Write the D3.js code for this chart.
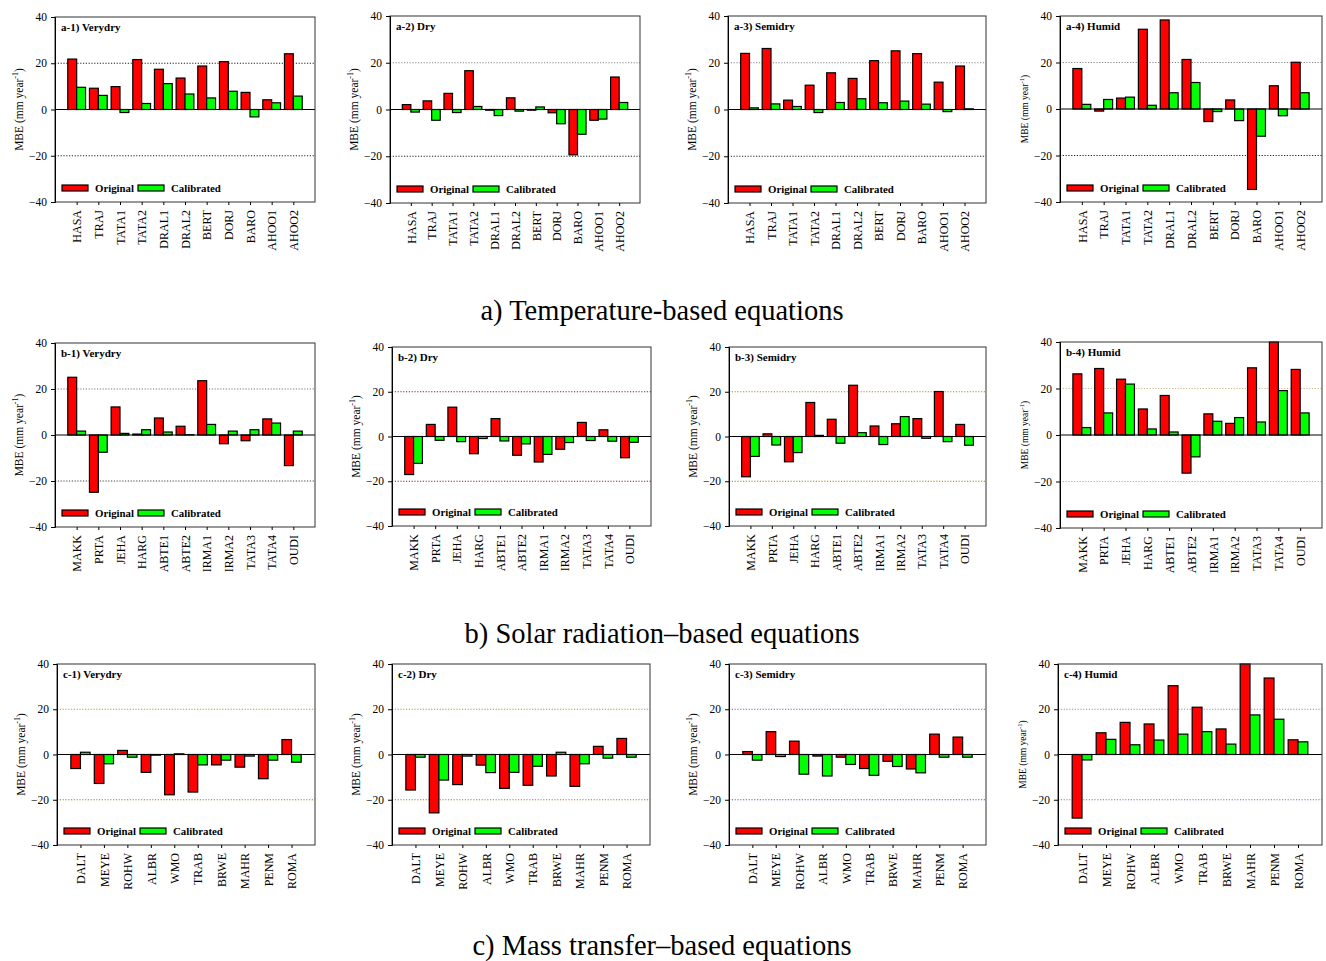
<!DOCTYPE html>
<html>
<head>
<meta charset="utf-8">
<script src="https://cdn.jsdelivr.net/npm/d3@7"></script>
<style>
  body { margin: 0; background: #fff; }
  svg { display: block; font-family: "Liberation Serif", "Times New Roman", serif; }
</style>
</head>
<body>
<svg id="chart" width="1326" height="961"></svg>
<script>
// station / equation names
const tempCats = ['HASA', 'TRAJ', 'TATA1', 'TATA2', 'DRAL1', 'DRAL2', 'BERT', 'DORJ', 'BARO', 'AHOO1', 'AHOO2']
const radCats = ['MAKK', 'PRTA', 'JEHA', 'HARG', 'ABTE1', 'ABTE2', 'IRMA1', 'IRMA2', 'TATA3', 'TATA4', 'OUDI']
const massCats = ['DALT', 'MEYE', 'ROHW', 'ALBR', 'WMO', 'TRAB', 'BRWE', 'MAHR', 'PENM', 'ROMA']

const climates = ['Verydry', 'Dry', 'Semidry', 'Humid']
const yTicks = [-40, -20, 0, 20, 40]

// a) temperature based
const a1Orig = [21.8, 9.2, 9.9, 21.6, 17.4, 13.6, 18.8, 20.7, 7.4, 4.2, 24.1]
const a1Cal = [9.6, 6.1, -1.3, 2.6, 11.2, 6.7, 5.0, 7.9, -3.2, 2.9, 5.8]
const a2Orig = [2.1, 3.7, 6.9, 16.6, -0.3, 5.0, -0.3, -1.4, -19.4, -4.6, 13.9]
const a2Cal = [-1.1, -4.6, -1.3, 1.3, -2.6, -0.7, 1.1, -6.1, -10.6, -4.1, 3.0]
const a3Orig = [24.0, 26.1, 4.0, 10.4, 15.7, 13.3, 20.9, 25.1, 23.9, 11.7, 18.6]
const a3Cal = [0.7, 2.4, 1.3, -1.3, 3.0, 4.6, 2.9, 3.6, 2.3, -0.9, 0.3]
const a4Orig = [17.4, -0.9, 4.7, 34.3, 38.3, 21.3, -5.4, 3.9, -34.6, 10.0, 20.1]
const a4Cal = [2.0, 4.1, 5.1, 1.6, 7.0, 11.4, -1.1, -5.0, -11.7, -2.9, 7.0]

// b) solar radiation based
const b1Orig = [25.1, -24.9, 12.2, 0.4, 7.4, 3.8, 23.6, -3.8, -2.5, 7.0, -13.3]
const b1Cal = [1.7, -7.5, 0.7, 2.3, 1.3, 0.1, 4.6, 1.7, 2.3, 5.2, 1.7]
const b2Orig = [-17.0, 5.4, 13.1, -7.7, 8.0, -8.4, -11.4, -5.7, 6.3, 3.0, -9.5]
const b2Cal = [-12.0, -1.7, -2.3, -0.9, -2.0, -3.3, -8.0, -2.7, -1.8, -2.1, -2.6]
const b3Orig = [-18.0, 1.2, -11.3, 15.2, 7.7, 22.9, 4.7, 5.7, 8.0, 20.1, 5.4]
const b3Cal = [-8.9, -3.8, -7.2, 0.5, -3.0, 1.7, -3.6, 8.9, -0.8, -2.3, -3.9]
const b4Orig = [26.3, 28.6, 24.0, 11.2, 17.0, -16.4, 9.1, 5.0, 28.9, 41.0, 28.2]
const b4Cal = [3.2, 9.5, 21.9, 2.6, 1.3, -9.4, 5.9, 7.5, 5.6, 19.1, 9.5]

// c) mass transfer based
const c1Orig = [-6.2, -12.8, 1.8, -7.9, -17.8, -16.6, -4.6, -5.6, -10.7, 6.6]
const c1Cal = [1.0, -4.1, -1.2, -0.3, 0.3, -4.6, -2.5, -0.7, -2.5, -3.4]
const c2Orig = [-15.7, -25.8, -13.3, -4.7, -15.0, -13.6, -9.5, -14.1, 3.6, 7.1]
const c2Cal = [-1.2, -11.3, -0.7, -8.0, -7.9, -5.2, 1.0, -4.1, -1.6, -1.2]
const c3Orig = [1.3, 10.1, 5.9, -0.7, -1.2, -6.2, -3.0, -6.4, 9.0, 7.7]
const c3Cal = [-2.5, -0.9, -8.7, -9.5, -4.4, -9.2, -5.3, -8.1, -1.2, -1.2]
const c4Orig = [-28.1, 9.6, 14.2, 13.5, 30.4, 20.9, 11.3, 42.0, 33.8, 6.5]
const c4Cal = [-2.4, 6.7, 4.3, 6.4, 9.0, 10.1, 4.6, 17.5, 15.6, 5.6]

const groupTitles = ['a) Temperature-based equations', 'b) Solar radiation\u2013based equations', 'c) Mass transfer\u2013based equations']

// panel layout: [left, top, right, bottom], grid colour
const panels = [
  {id: 'a-1', cats: tempCats, orig: a1Orig, cal: a1Cal, box: [55, 17, 315, 202], grid: ['#222', '#222']},
  {id: 'a-2', cats: tempCats, orig: a2Orig, cal: a2Cal, box: [390, 16, 640, 203], grid: ['#888', '#222']},
  {id: 'a-3', cats: tempCats, orig: a3Orig, cal: a3Cal, box: [728, 16, 986, 203], grid: ['#888', '#222']},
  {id: 'a-4', cats: tempCats, orig: a4Orig, cal: a4Cal, box: [1060, 16, 1322, 202], grid: ['#888', '#222'], small: true},
  {id: 'b-1', cats: radCats, orig: b1Orig, cal: b1Cal, box: [55, 343, 315, 527], grid: ['#777', '#444']},
  {id: 'b-2', cats: radCats, orig: b2Orig, cal: b2Cal, box: [392, 347, 651, 526], grid: ['#7a2050', '#7a2050']},
  {id: 'b-3', cats: radCats, orig: b3Orig, cal: b3Cal, box: [729, 347, 986, 526], grid: ['#b09010', '#a08010']},
  {id: 'b-4', cats: radCats, orig: b4Orig, cal: b4Cal, box: [1060, 342, 1322, 528], grid: ['#c8b888', '#c8b070'], small: true},
  {id: 'c-1', cats: massCats, orig: c1Orig, cal: c1Cal, box: [57, 664, 315, 845], grid: ['#b09a30', '#9a8020']},
  {id: 'c-2', cats: massCats, orig: c2Orig, cal: c2Cal, box: [392, 664, 650, 845], grid: ['#b09a30', '#9a8020']},
  {id: 'c-3', cats: massCats, orig: c3Orig, cal: c3Cal, box: [729, 664, 986, 845], grid: ['#8060a8', '#7050a0']},
  {id: 'c-4', cats: massCats, orig: c4Orig, cal: c4Cal, box: [1058, 664, 1322, 845], grid: ['#9888b8', '#8070a8'], small: true}
]

const svg = d3.select('#chart')

panels.forEach((p, i) => {
  const [x0, y0, x1, y1] = p.box
  const x = d3.scalePoint().domain(p.cats).range([x0, x1]).padding(1)
  const y = d3.scaleLinear().domain([-40, 40]).range([y1, y0]).clamp(true)
  const bw = x.step() * 0.41
  const g = svg.append('g')

  // grid lines at +/-20
  g.selectAll('.grid').data([20, -20]).enter().append('line')
    .attr('x1', x0).attr('x2', x1)
    .attr('y1', d => y(d)).attr('y2', d => y(d))
    .attr('stroke', (d, k) => p.grid[k])
    .attr('stroke-width', 1.1)
    .attr('stroke-dasharray', '1.2,1.6')

  const rows = p.cats.map((c, k) => ({cat: c, orig: p.orig[k], cal: p.cal[k]}))

  g.selectAll('.orig').data(rows).enter().append('rect')
    .attr('x', d => x(d.cat) - bw)
    .attr('width', bw)
    .attr('y', d => y(Math.max(0, d.orig)))
    .attr('height', d => Math.abs(y(d.orig) - y(0)))
    .attr('fill', '#ff0000')
    .attr('stroke', '#000')
    .attr('stroke-width', 1.2)

  g.selectAll('.cal').data(rows).enter().append('rect')
    .attr('x', d => x(d.cat))
    .attr('width', bw)
    .attr('y', d => y(Math.max(0, d.cal)))
    .attr('height', d => Math.abs(y(d.cal) - y(0)))
    .attr('fill', '#00ff00')
    .attr('stroke', '#000')
    .attr('stroke-width', 1.2)

  // zero line
  g.append('line')
    .attr('x1', x0).attr('x2', x1)
    .attr('y1', y(0)).attr('y2', y(0))
    .attr('stroke', '#000').attr('stroke-width', 1)

  // frame
  g.append('rect')
    .attr('x', x0).attr('y', y0)
    .attr('width', x1 - x0).attr('height', y1 - y0)
    .attr('fill', 'none').attr('stroke', '#333').attr('stroke-width', 1)

  // axes
  const yAxis = g.append('g')
    .attr('transform', `translate(${x0},0)`)
    .call(d3.axisLeft(y).tickValues(yTicks).tickSize(4).tickPadding(4))
  yAxis.select('.domain').attr('stroke', '#000')
  yAxis.selectAll('text').attr('font-size', 11.5).attr('font-family', 'Liberation Serif').attr('fill', '#000')

  const xAxis = g.append('g')
    .attr('transform', `translate(0,${y1})`)
    .call(d3.axisBottom(x).tickSize(3).tickSizeOuter(0))
  xAxis.select('.domain').remove()
  xAxis.selectAll('text')
    .attr('font-size', 12).attr('font-family', 'Liberation Serif').attr('fill', '#000')
    .attr('text-anchor', 'end')
    .attr('transform', 'rotate(-90)')
    .attr('x', -8).attr('y', 0).attr('dy', '0.35em')

  // y label
  const fs = p.small ? 9.5 : 11.5
  const yl = g.append('text')
    .attr('transform', `translate(${x0 - 32},${(y0 + y1) / 2}) rotate(-90)`)
    .attr('text-anchor', 'middle')
    .attr('font-size', fs)
  yl.append('tspan').text('MBE (mm year')
  yl.append('tspan').text('-1').attr('font-size', fs * 0.7).attr('dy', -fs * 0.4)
  yl.append('tspan').text(')').attr('dy', fs * 0.4)

  // panel title
  g.append('text')
    .attr('x', x0 + 6).attr('y', y0 + 14)
    .attr('font-size', 11).attr('font-weight', 'bold')
    .text(`${p.id}) ${climates[i % 4]}`)

  // legend
  const ly = y1 - 17
  const leg = [
    {name: 'Original', fill: '#ff0000', dx: 7},
    {name: 'Calibrated', fill: '#00ff00', dx: 83}
  ]
  leg.forEach(l => {
    g.append('rect')
      .attr('x', x0 + l.dx).attr('y', ly)
      .attr('width', 26).attr('height', 6)
      .attr('fill', l.fill).attr('stroke', '#000').attr('stroke-width', 1.2)
    g.append('text')
      .attr('x', x0 + l.dx + 33).attr('y', ly + 7)
      .attr('font-size', 10.8).attr('font-weight', 'bold')
      .text(l.name)
  })
})

// group captions
svg.selectAll('.caption').data(groupTitles).enter().append('text')
  .attr('x', 662)
  .attr('y', (d, i) => [320, 643, 955][i])
  .attr('text-anchor', 'middle')
  .attr('font-size', 28.5)
  .text(d => d)
</script>
</body>
</html>
